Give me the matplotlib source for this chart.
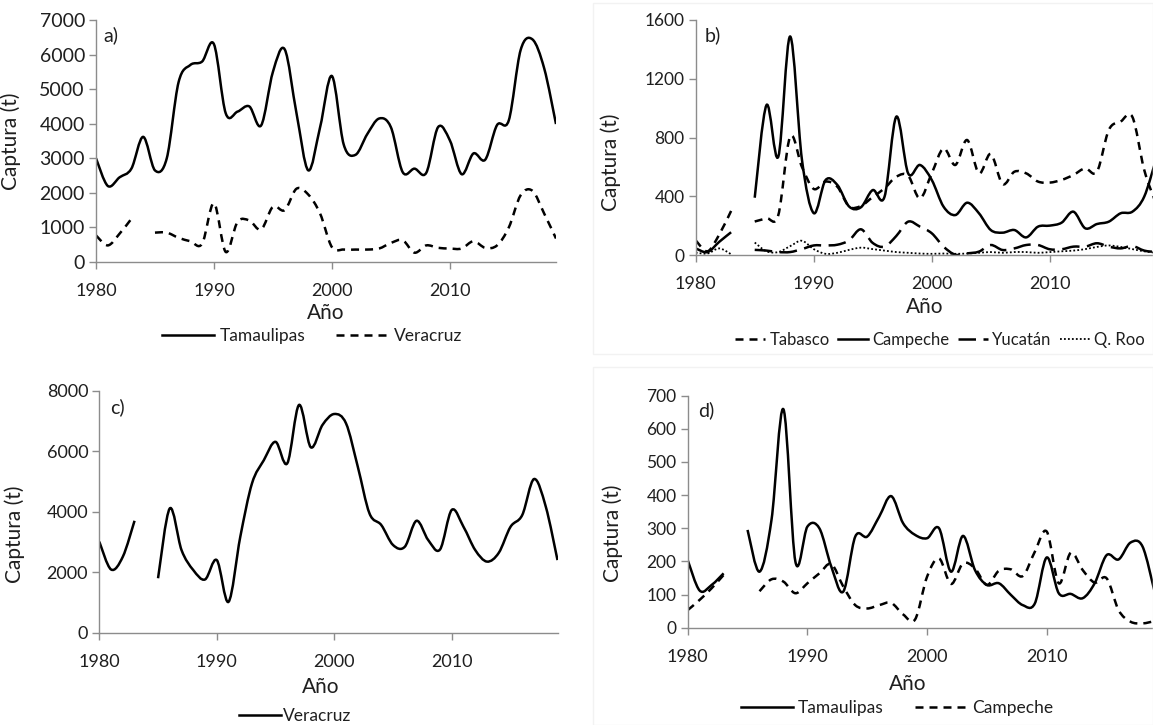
import numpy as np
import matplotlib
matplotlib.use("Agg")
import matplotlib.pyplot as plt
from matplotlib.path import Path
from matplotlib.patches import PathPatch, Rectangle
from matplotlib.lines import Line2D

nan = np.nan
years = list(range(1980, 2020))

# Panel a
a_tamaulipas = [3000, 2200, 2450, 2700, 3620, 2650, 3000, 5200, 5700, 5800,
                6300, 4300, 4350, 4500, 3950, 5500, 6150, 4300, 2650, 3900,
                5380, 3400, 3100, 3700, 4150, 3900, 2600, 2700, 2580, 3900,
                3520, 2540, 3140, 2960, 3960, 4100, 6130, 6440, 5600, 3990]
a_veracruz = [770, 480, 820, 1250, nan, 850, 850, 700, 600, 530,
              1700, 290, 1160, 1200, 940, 1600, 1500, 2120, 1950, 1400,
              430, 360, 360, 360, 390, 550, 630, 270, 480, 410,
              390, 390, 600, 410, 480, 1000, 1930, 2060, 1400, 680]

# Panel b
b_tabasco = [100, 25, 140, 300, nan, 228, 250, 272, 806, 600,
             450, 500, 465, 330, 334, 395, 454, 533, 540, 385,
             556, 726, 613, 783, 556, 688, 483, 567, 556, 500,
             493, 511, 545, 590, 567, 851, 908, 940, 580, 350]
b_campeche = [45, 20, 90, 155, nan, 390, 1021, 670, 1488, 650,
              285, 510, 477, 330, 325, 442, 397, 942, 556, 613,
              511, 329, 272, 356, 284, 170, 152, 170, 120, 193,
              200, 220, 295, 182, 211, 227, 284, 295, 397, 650]
b_yucatan = [nan, nan, nan, nan, nan, 35, 30, 20, 20, 40,
             65, 65, 70, 100, 175, 82, 57, 130, 227, 193,
             148, 57, 2, 11, 23, 68, 34, 45, 68, 68,
             39, 39, 57, 57, 80, 57, 45, 61, 30, 20]
b_qroo = [16, 10, 45, 5, nan, 85, 25, 20, 60, 97,
          40, 8, 15, 35, 50, 40, 30, 20, 15, 10,
          8, 10, 8, 10, 15, 20, 15, 20, 20, 15,
          20, 25, 30, 40, 55, 65, 55, 40, 25, 15]

# Panel c
c_veracruz = [3010, 2090, 2510, 3700, nan, 1800, 4110, 2730, 2070, 1760,
              2400, 1020, 3170, 4940, 5700, 6310, 5600, 7530, 6130, 6870,
              7230, 6920, 5490, 3940, 3560, 2900, 2840, 3700, 3060, 2750,
              4060, 3500, 2730, 2350, 2640, 3500, 3890, 5080, 4170, 2400]

# Panel d
d_tamaulipas = [204, 112, 129, 164, nan, 295, 169, 325, 659, 199,
                305, 300, 184, 109, 275, 275, 335, 397, 315, 280,
                270, 300, 169, 277, 174, 129, 134, 99, 68, 73,
                212, 104, 102, 89, 134, 219, 206, 257, 245, 110]
d_campeche = [53, 84, 119, 159, nan, nan, 110, 146, 139, 104,
              134, 164, 192, 124, 68, 58, 68, 75, 40, 25,
              154, 209, 132, 194, 179, 129, 172, 176, 156, 229,
              290, 134, 226, 174, 136, 149, 53, 18, 13, 20]

xticks = [1980, 1990, 2000, 2010]

plt.rcParams['font.family'] = ['Lato', 'DejaVu Sans']
W, H = 1153, 725
fig = plt.figure(figsize=(W / 100, H / 100), dpi=100)

GRAY = '#8c8c8c'
TXT = '#1f1f1f'

# faint chart-area frames
fig.patches.append(Rectangle((593 / W, 1 - 354 / H), (W - 593) / W, 351 / H,
                             transform=fig.transFigure, fill=False,
                             edgecolor='#f2f2f2', lw=1))
fig.patches.append(Rectangle((593 / W, 0), (W - 593) / W, 1 - 367 / H,
                             transform=fig.transFigure, fill=False,
                             edgecolor='#f2f2f2', lw=1))


def px_axes(left, right, top, bottom):
    return fig.add_axes([left / W, 1 - bottom / H, (right - left) / W, (bottom - top) / H])


def smooth(ax, x, y, **kw):
    x = np.asarray(x, float)
    y = np.asarray(y, float)
    ok = ~np.isnan(y)
    segs = []
    cur = []
    for i in range(len(x)):
        if ok[i]:
            cur.append(i)
        else:
            if cur:
                segs.append(cur)
            cur = []
    if cur:
        segs.append(cur)
    for s in segs:
        px, py = x[s], y[s]
        n = len(px)
        if n == 1:
            continue
        verts = [(px[0], py[0])]
        codes = [Path.MOVETO]
        for i in range(n - 1):
            i0 = max(i - 1, 0)
            i3 = min(i + 2, n - 1)
            c1 = (px[i] + (px[i + 1] - px[i0]) / 6, py[i] + (py[i + 1] - py[i0]) / 6)
            c2 = (px[i + 1] - (px[i3] - px[i]) / 6, py[i + 1] - (py[i3] - py[i]) / 6)
            verts += [c1, c2, (px[i + 1], py[i + 1])]
            codes += [Path.CURVE4] * 3
        ax.add_patch(PathPatch(Path(verts, codes), fill=False, capstyle='butt',
                               joinstyle='round', **kw))


def style(ax, ylim, yticks, ytick_size=12.5):
    ax.set_xlim(1980, 2019)
    ax.set_ylim(*ylim)
    ax.set_xticks(xticks)
    ax.set_yticks(yticks)
    for sp in ['top', 'right']:
        ax.spines[sp].set_visible(False)
    for sp in ['left', 'bottom']:
        ax.spines[sp].set_color(GRAY)
        ax.spines[sp].set_linewidth(1.0)
    ax.tick_params(axis='both', direction='out', length=5, width=1, color=GRAY,
                   labelcolor=TXT)
    ax.tick_params(axis='x', labelsize=13, pad=10)
    ax.tick_params(axis='y', labelsize=ytick_size, pad=3)
    ax.patch.set_alpha(0)


SOLID = dict(edgecolor='black', lw=1.8)
DASH = dict(edgecolor='black', lw=1.8, linestyle=(0, (3.2, 2.4)))
LONG = dict(edgecolor='black', lw=1.8, linestyle=(0, (7, 3)))
DOT = dict(edgecolor='black', lw=1.3, linestyle=(0, (1, 1.2)))


def handle(kw):
    return Line2D([], [], color='black', lw=kw['lw'],
                  linestyle=kw.get('linestyle', '-'))


def ylab(ax, x, y):
    ax.set_ylabel('Captura (t)', fontsize=15, color=TXT)
    ax.yaxis.set_label_coords(x / W, 1 - y / H, transform=fig.transFigure)


def xlab(ax, x, y):
    ax.set_xlabel('Año', fontsize=15, color=TXT)
    ax.xaxis.set_label_coords(x / W, 1 - y / H, transform=fig.transFigure)


def leg(handles, labels, x, y, ncol, hl=3.0, sp=1.8, tp=0.3, fs=12.5):
    fig.legend(handles, labels, loc='center', bbox_to_anchor=(x / W, 1 - y / H),
               ncol=ncol, frameon=False, fontsize=fs, handlelength=hl,
               handletextpad=tp, columnspacing=sp, labelcolor=TXT,
               borderpad=0, borderaxespad=0)


# ---- a ----
ax = px_axes(96, 556, 20, 262)
smooth(ax, years, a_tamaulipas, **SOLID)
smooth(ax, years, a_veracruz, **DASH)
style(ax, (0, 7000), range(0, 7001, 1000), ytick_size=14)
ax.text(103 / W, 1 - 35 / H, 'a)', transform=fig.transFigure, fontsize=14,
        va='center', ha='left', color=TXT)
ylab(ax, 21, 141)
xlab(ax, 326, 303)
leg([handle(SOLID), handle(DASH)], ['Tamaulipas', 'Veracruz'], 312, 336, 2)

# ---- b ----
ax = px_axes(695.7, 1156, 20, 255)
smooth(ax, years, b_tabasco, **DASH)
smooth(ax, years, b_campeche, **SOLID)
smooth(ax, years, b_yucatan, **LONG)
smooth(ax, years, b_qroo, **DOT)
style(ax, (0, 1600), range(0, 1601, 400))
ax.text(705 / W, 1 - 35 / H, 'b)', transform=fig.transFigure, fontsize=14,
        va='center', ha='left', color=TXT)
ylab(ax, 621, 162)
xlab(ax, 925, 297)
leg([handle(DASH), handle(SOLID), handle(LONG), handle(DOT)],
    ['Tabasco', 'Campeche', 'Yucatán', 'Q. Roo'], 940, 340, 4,
    hl=1.8, sp=0.5, tp=0.25, fs=12)

# ---- c ----
ax = px_axes(99.3, 557.5, 390.7, 632.7)
smooth(ax, years, c_veracruz, **SOLID)
style(ax, (0, 8000), range(0, 8001, 2000), ytick_size=13)
ax.text(110 / W, 1 - 407 / H, 'c)', transform=fig.transFigure, fontsize=14,
        va='center', ha='left', color=TXT)
ylab(ax, 25, 534)
xlab(ax, 321, 677)
leg([handle(SOLID)], ['Veracruz'], 295, 716, 1, hl=2.4, tp=0.1)

# ---- d ----
ax = px_axes(687.7, 1154.5, 395.7, 627.7)
smooth(ax, years, d_tamaulipas, **SOLID)
smooth(ax, years, d_campeche, **DASH)
style(ax, (0, 700), range(0, 701, 100))
ax.text(698 / W, 1 - 410 / H, 'd)', transform=fig.transFigure, fontsize=14,
        va='center', ha='left', color=TXT)
ylab(ax, 623, 533)
xlab(ax, 908, 674)
leg([handle(SOLID), handle(DASH)], ['Tamaulipas', 'Campeche'], 897, 708, 2)

fig.savefig('out.png', dpi=100)
